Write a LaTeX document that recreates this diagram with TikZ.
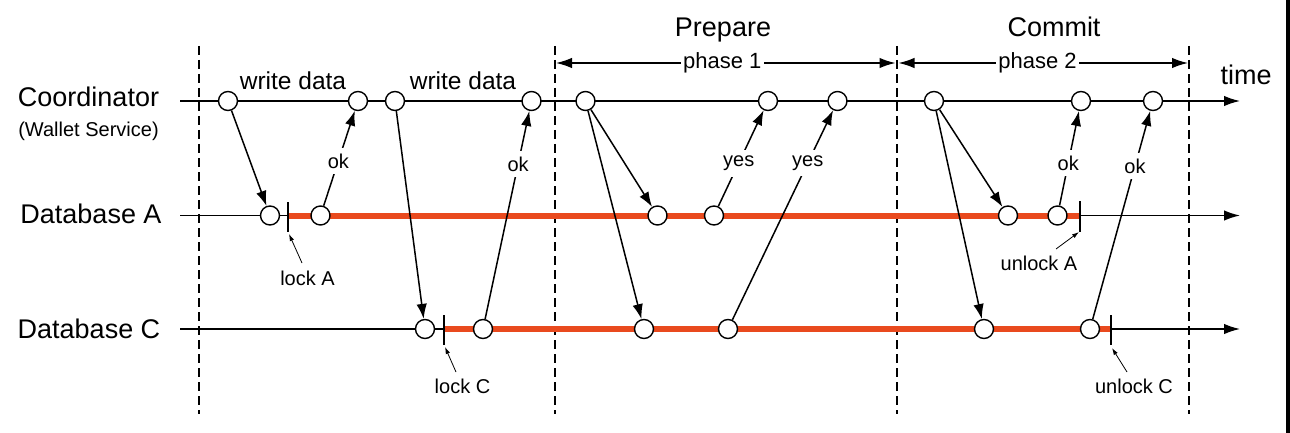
\documentclass[tikz,border=0pt]{standalone}
\usepackage{fontspec}
\setmainfont{Liberation Sans}
\usetikzlibrary{arrows.meta}
\definecolor{lockred}{RGB}{233,74,30}
\newcommand\fntXL{\fontsize{27}{31}\selectfont}
\newcommand\fntL{\fontsize{24.5}{28}\selectfont}
\newcommand\fntM{\fontsize{22}{25}\selectfont}
\newcommand\fntS{\fontsize{20}{24}\selectfont}
\begin{document}
\begin{tikzpicture}[x=1pt,y=-1pt,
  ev/.style={circle,draw,fill=white,line width=1.4pt,minimum size=19pt,inner sep=0pt},
  tl/.style={line width=1.5pt},
  bigtip/.style={-{Latex[length=16pt,width=10.5pt]}},
  msg/.style={line width=1.5pt,-{Latex[length=15pt,width=10.5pt]}},
  lbl/.style={fill=white,inner sep=6pt,font=\fntS},
  ptr/.style={line width=0.8pt,-{Latex[length=7pt,width=4.5pt]}},
  vdash/.style={dash pattern=on 9pt off 5pt,line width=1.3pt},
  lockbar/.style={line width=6pt,lockred},
  tick/.style={line width=1.5pt},
  txt/.style={anchor=base,inner sep=0pt},
  ]
\useasboundingbox (0,0) rectangle (1290,433);
\fill[black] (1286,0) rectangle (1290,433);

% participant labels
\node[txt,font=\fntXL] (lcoord) at (88.5,106.5) {Coordinator};
\node[txt,font=\fntS] (lwallet) at (88.5,136) {(Wallet Service)};
\node[txt,font=\fntXL] (ldba) at (91,223) {Database A};
\node[txt,font=\fntXL] (ldbc) at (89,338) {Database C};

% phase separators
\draw[vdash] (199,46) -- (199,414);
\draw[vdash] (555,46) -- (555,414);
\draw[vdash] (897,46) -- (897,414);
\draw[vdash] (1189,46) -- (1189,414);

% phase headers
\node[txt,font=\fntXL] (prep) at (723,37) {Prepare};
\node[txt,font=\fntXL] (comm) at (1054,37) {Commit};
\coordinate (p1s) at (556,63);
\coordinate (p1e) at (895.5,63);
\coordinate (p2s) at (898.5,63);
\coordinate (p2e) at (1188,63);
\draw[tl,{Latex[length=16pt,width=10.5pt]}-{Latex[length=16pt,width=10.5pt]}] (p1s) -- node[fill=white,inner sep=2pt,font=\fntM,pos=0.49] (ph1) {phase 1} (p1e);
\draw[tl,{Latex[length=16pt,width=10.5pt]}-{Latex[length=16pt,width=10.5pt]}] (p2s) -- node[fill=white,inner sep=2pt,font=\fntM,pos=0.48] (ph2) {phase 2} (p2e);
\node[txt,font=\fntXL] (ltime) at (1246,85) {time};

% timelines
\coordinate (cs) at (180,101);  \coordinate (ce) at (1240,101);
\coordinate (as) at (180,215.5); \coordinate (ae) at (1240,215.5);
\coordinate (bs) at (180,329);  \coordinate (be) at (1240,329);
\draw[tl,bigtip] (cs) -- (ce);
\draw[tl,bigtip] (as) -- (ae);
\draw[tl,bigtip] (bs) -- (be);

% lock periods
\coordinate (lkA) at (288,215.5);
\coordinate (ulA) at (1080,215.5);
\coordinate (lkC) at (444,329);
\coordinate (ulC) at (1111,329);
\draw[lockbar] (lkA) -- (ulA);
\draw[lockbar] (lkC) -- (ulC);
\coordinate (lkAt) at (288,202); \coordinate (lkAb) at (288,232);
\coordinate (ulAt) at (1080,201); \coordinate (ulAb) at (1080,232);
\coordinate (lkCt) at (444,315); \coordinate (lkCb) at (444,345);
\coordinate (ulCt) at (1111,315); \coordinate (ulCb) at (1111,345);
\draw[tick] (lkAt) -- (lkAb);
\draw[tick] (ulAt) -- (ulAb);
\draw[tick] (lkCt) -- (lkCb);
\draw[tick] (ulCt) -- (ulCb);

% lock labels and pointers
\node[txt,font=\fntS] (tlkA) at (307.5,285) {lock A};
\node[txt,font=\fntS] (tlkC) at (462.5,393) {lock C};
\node[txt,font=\fntS] (tulA) at (1039,270) {unlock A};
\node[txt,font=\fntS] (tulC) at (1134,393) {unlock C};
\coordinate (plkA) at (302,263);
\coordinate (plkC) at (456,372);
\coordinate (pulA) at (1056,249);
\coordinate (pulC) at (1127,372);
\coordinate (qlkA) at (289,234);
\coordinate (qlkC) at (445,347);
\coordinate (qulA) at (1079,232);
\coordinate (qulC) at (1112,348);
\draw[ptr] (plkA) -- (qlkA);
\draw[ptr] (plkC) -- (qlkC);
\draw[ptr] (pulA) -- (qulA);
\draw[ptr] (pulC) -- (qulC);

% events on coordinator
\node[ev] (co1) at (228,101) {};
\node[ev] (co2) at (358,101) {};
\node[ev] (co3) at (395,101) {};
\node[ev] (co4) at (531.5,101) {};
\node[ev] (co5) at (585.5,101) {};
\node[ev] (co6) at (768,101) {};
\node[ev] (co7) at (837.5,101) {};
\node[ev] (co8) at (934,101) {};
\node[ev] (co9) at (1081,101) {};
\node[ev] (co10) at (1153,101) {};
% events on database A
\node[ev] (da1) at (270,215.5) {};
\node[ev] (da2) at (320.5,215.5) {};
\node[ev] (da3) at (657.5,215.5) {};
\node[ev] (da4) at (714,215.5) {};
\node[ev] (da5) at (1008,215.5) {};
\node[ev] (da6) at (1057.5,215.5) {};
% events on database C
\node[ev] (dc1) at (425,329) {};
\node[ev] (dc2) at (483,329) {};
\node[ev] (dc3) at (644,329) {};
\node[ev] (dc4) at (728,329) {};
\node[ev] (dc5) at (984,329) {};
\node[ev] (dc6) at (1090,329) {};

% write data labels
\node[txt,font=\fntL] (wd1) at (293,90) {write data};
\node[txt,font=\fntL] (wd2) at (463,90) {write data};

% messages
\draw[msg] (co1) -- (da1);
\draw[msg] (da2) -- node[lbl,pos=0.47] (ok1) {ok} (co2);
\draw[msg] (co3) -- (dc1);
\draw[msg] (dc2) -- node[lbl,pos=0.745] (ok2) {ok} (co4);
\draw[msg] (co5) -- (da3);
\draw[msg] (co5) -- (dc3);
\draw[msg] (da4) -- node[lbl,pos=0.45] (yes1) {yes} (co6);
\draw[msg] (dc4) -- node[lbl,pos=0.748] (yes2) {yes} (co7);
\draw[msg] (co8) -- (da5);
\draw[msg] (co8) -- (dc5);
\draw[msg] (da6) -- node[lbl,pos=0.45] (ok3) {ok} (co9);
\draw[msg] (dc6) -- node[lbl,pos=0.735] (ok4) {ok} (co10);
\end{tikzpicture}
\end{document}
